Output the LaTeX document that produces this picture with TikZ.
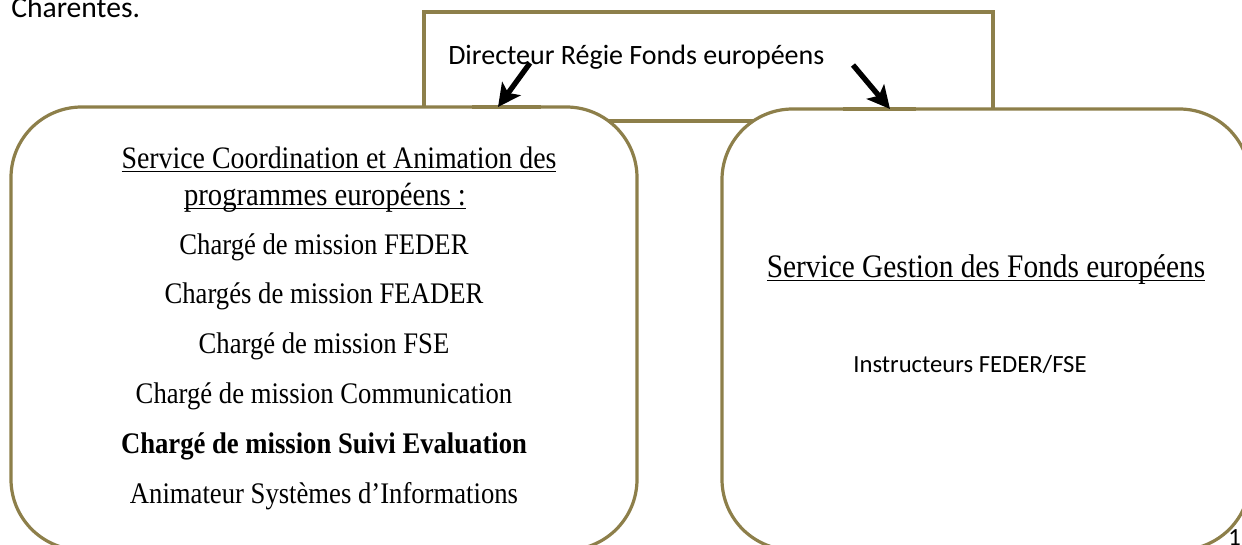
\documentclass[tikz,border=0pt]{standalone}
\usepackage{fontspec}
\usepackage{xcolor}
\usepackage{graphicx}
\usetikzlibrary{arrows.meta}
\setmainfont{Liberation Serif}
\newfontfamily\calib{Carlito}
\definecolor{boxolive}{RGB}{141,127,74}
% taller serif lines, underline through the descenders
\newcommand\tallT[1]{\scalebox{1}[1.12]{#1}}
\newcommand\ulined[1]{\setbox0\hbox{#1}\rlap{\rule[-3pt]{\wd0}{0.9pt}}\box0}
\tikzset{
  dirbox/.style={draw=boxolive, line width=2.4pt, fill=white, inner sep=0pt},
  svcbox/.style={draw=boxolive, line width=2.4pt, fill=white, rounded corners=53pt, inner sep=0pt},
  thickedge/.style={boxolive, line width=3.4pt},
  linkarrow/.style={line width=4pt, -{Stealth[length=17pt,width=17pt,inset=4pt]}},
  serifline/.style={anchor=base, inner sep=0pt, font=\fontsize{20}{24}\selectfont},
  calibline/.style={anchor=base west, inner sep=0pt, font=\calib\fontsize{21}{25}\selectfont}
}
\begin{document}
\begin{tikzpicture}[x=0.75pt,y=0.75pt,yscale=-1,xscale=1]
\useasboundingbox (0,0) rectangle (1242,544);
\clip (0,0) rectangle (1242,544);

%Shape: Rectangle [id:directeur]
\node [dirbox, minimum width=426.75pt, minimum height=81.75pt] (dir) at (708.5,66.5) {};
%Shape: Rounded Rect [id:coordination]
\node [svcbox, minimum width=469.5pt, minimum height=332.25pt] (coord) at (324,328.5) {};
%Shape: Rounded Rect [id:gestion]
\node [svcbox, minimum width=396pt, minimum height=330.75pt] (gest) at (986,329.5) {};

%Straight Lines [id:edges]
\coordinate (coordA) at (472,107);
\coordinate (coordB) at (541,107);
\coordinate (gestA) at (843,109);
\coordinate (gestB) at (916,109);
\draw [thickedge] (coordA) -- (coordB);
\draw [thickedge] (gestA) -- (gestB);

%Straight Lines [id:arrows]
\coordinate (dirL) at (530,63);
\coordinate (dirR) at (853,65);
\coordinate (coordTop) at (498,107);
\coordinate (gestTop) at (890,109);
\draw [linkarrow] (dirL) -- (coordTop);
\draw [linkarrow] (dirR) -- (gestTop);

% Text Node
\node [calibline, font=\calib\fontsize{22.2}{26}\selectfont] (charentes) at (11,17) {Charentes.};
% Text Node
\node [calibline] (dirtxt) at (448,64) {Directeur Régie Fonds européens};
% Text Node
\node [serifline, font=\fontsize{20.9}{24}\selectfont] (c1) at (339,168) {\tallT{\ulined{Service Coordination et Animation des}}};
% Text Node
\node [serifline, font=\fontsize{21.5}{24}\selectfont] (c2) at (325,205) {\tallT{\ulined{programmes européens :}}};
% Text Node
\node [serifline] (c3) at (324,254) {\tallT{Chargé de mission FEDER}};
% Text Node
\node [serifline] (c4) at (324,303) {\tallT{Chargés de mission FEADER}};
% Text Node
\node [serifline] (c5) at (324,353) {\tallT{Chargé de mission FSE}};
% Text Node
\node [serifline] (c6) at (324,403) {\tallT{Chargé de mission Communication}};
% Text Node
\node [serifline] (c7) at (324,453) {\tallT{\bfseries Chargé de mission Suivi Evaluation}};
% Text Node
\node [serifline] (c8) at (324,503) {\tallT{Animateur Systèmes d’Informations}};
% Text Node
\node [serifline, font=\fontsize{22}{26}\selectfont] (g1) at (986,277) {\tallT{\ulined{Service Gestion des Fonds européens}}};
% Text Node
\node [calibline, anchor=base, font=\calib\fontsize{18.5}{22}\selectfont] (g2) at (970,372) {Instructeurs FEDER/FSE};
% Text Node
\node [calibline, font=\calib\fontsize{18.5}{22}\selectfont] (pagenum) at (1228,545) {1};

\end{tikzpicture}
\end{document}
